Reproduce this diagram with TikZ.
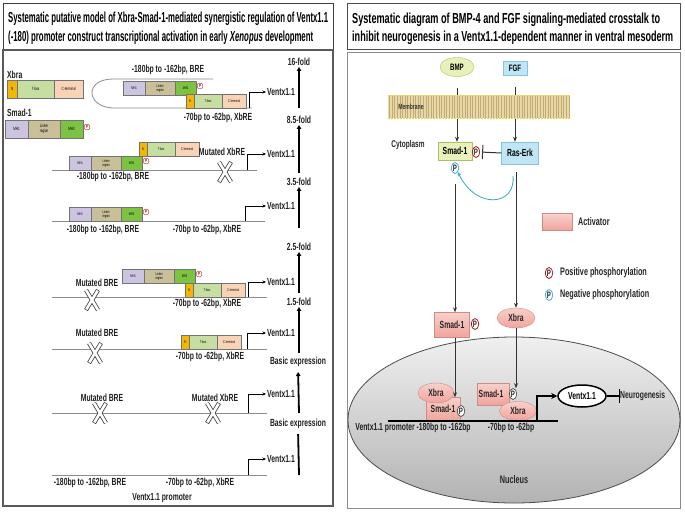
\documentclass[tikz,border=0pt]{standalone}
\usepackage{fontspec}
\setmainfont{Liberation Sans}
\newfontfamily\nar[FakeStretch=0.66]{Liberation Sans}
\usetikzlibrary{arrows.meta,shapes.geometric}
\definecolor{nc}{HTML}{F2B705}
\definecolor{tboxc}{HTML}{C6DEA2}
\definecolor{ctc}{HTML}{F9D3B6}
\definecolor{mhone}{HTML}{CCC4E0}
\definecolor{linkc}{HTML}{C9BF99}
\definecolor{mhtwo}{HTML}{7DC243}
\definecolor{bmpfill}{HTML}{E7F1B9}
\definecolor{bmpdraw}{HTML}{A8C36A}
\definecolor{bluefill}{HTML}{C0E6F5}
\definecolor{bluedraw}{HTML}{86C3DC}
\definecolor{pinktop}{HTML}{F9D0CB}
\definecolor{pinkbot}{HTML}{F0A49C}
\definecolor{pinkdraw}{HTML}{CF8C86}
\definecolor{cyanarr}{HTML}{35A8C8}
\definecolor{memfill}{HTML}{E8D8A8}
\definecolor{memline}{HTML}{C2AB72}
\definecolor{memedge}{HTML}{E6D64C}
\begin{document}
\begin{tikzpicture}[x=1pt,y=-1pt,
  lbl/.style={font=\nar\bfseries\fontsize{10.3}{11}\selectfont, inner sep=0pt, text=black!88},
  rlbl/.style={font=\nar\bfseries\fontsize{11}{12}\selectfont, inner sep=0pt, text=black!85},
  dom/.style={draw=black!55, line width=0.35pt, minimum height=14pt, inner sep=0pt, anchor=north west,
    font=\nar\fontsize{3.9}{4.1}\selectfont, align=center},
  bigdom/.style={dom, minimum height=18pt, font=\nar\fontsize{4.6}{4.8}\selectfont},
  psm/.style={circle, draw=red!75!black, fill=white, line width=0.35pt, minimum size=6pt, inner sep=0pt,
    font=\nar\bfseries\fontsize{4.4}{4.4}\selectfont, text=red!60!black},
  pbig/.style={ellipse, draw=#1, fill=white, line width=0.7pt, minimum width=7.5pt, minimum height=11pt, inner sep=0pt,
    font=\nar\bfseries\fontsize{9.3}{9.3}\selectfont, text=black!85},
  cline/.style={draw=black!45, line width=0.8pt},
  bent/.style={draw=black, line width=0.5pt, -{Stealth[length=3.5pt,width=3pt]}},
  fold/.style={draw=black, line width=1.8pt, -{Triangle[length=4pt,width=4.5pt]}},
  arr/.style={draw=black!80, line width=0.8pt, -{Stealth[length=5pt,width=4pt]}},
  pinkbox/.style={rectangle, draw=pinkdraw, top color=pinktop, bottom color=pinkbot, inner sep=0pt,
    font=\nar\bfseries\fontsize{10.3}{11}\selectfont, text=black!85},
  pinkell/.style={ellipse, draw=pinkdraw, top color=pinktop, bottom color=pinkbot, inner sep=0pt,
    font=\nar\bfseries\fontsize{10.3}{11}\selectfont, text=black!85},
  smadp/.pic={
    \node[dom, fill=mhone, minimum width=22pt] (-m1) at (0,0) {MH1};
    \node[dom, fill=linkc, minimum width=30pt] (-lk) at (22,0) {Linker\\region};
    \node[dom, fill=mhtwo, minimum width=21pt] (-m2) at (52,0) {MH2};
    \node[psm] (-p) at (77,5) {P};
  },
  smadbig/.pic={
    \node[bigdom, fill=mhone, minimum width=23pt] (-m1) at (0,0) {MH1};
    \node[bigdom, fill=linkc, minimum width=32pt] (-lk) at (23,0) {Linker\\region};
    \node[bigdom, fill=mhtwo, minimum width=23pt] (-m2) at (55,0) {MH2};
    \node[psm] (-p) at (82,7) {P};
  },
  xbrap/.pic={
    \node[dom, fill=nc, minimum width=8pt] (-n) at (0,0) {N};
    \node[dom, fill=tboxc, minimum width=28pt] (-t) at (8,0) {T-box};
    \node[dom, fill=ctc, minimum width=24pt] (-c) at (36,0) {C-terminal};
  },
  xbrabig/.pic={
    \node[bigdom, fill=nc, minimum width=10pt] (-n) at (0,0) {N};
    \node[bigdom, fill=tboxc, minimum width=37pt] (-t) at (10,0) {T-box};
    \node[bigdom, fill=ctc, minimum width=29pt] (-c) at (47,0) {C-terminal};
  },
  mutx/.pic={
    \draw[line width=4.2pt, black!75] (-6,-10) -- (6,10) (6,-10) -- (-6,10);
    \draw[line width=2.6pt, white, shorten <=0.7pt, shorten >=0.7pt] (-6,-10) -- (6,10) (6,-10) -- (-6,10);
  }
]
\useasboundingbox (0,0) rectangle (685,512);
\fill[white] (0,0) rectangle (685,512);

% ================= LEFT PANEL =================
\draw[black!75, line width=1pt] (3,3) rectangle (333,50);
\draw[black!65, line width=1.2pt] (3,50) rectangle (333,506);
\node[anchor=west, inner sep=0pt] (ltitle1) at (8,19) {\resizebox{320pt}{\height}{\fontsize{14.5}{15}\selectfont\bfseries Systematic putative model of Xbra-Smad-1-mediated synergistic regulation of Ventx1.1}};
\node[anchor=west, inner sep=0pt] (ltitle2) at (8,38) {\resizebox{305pt}{\height}{\fontsize{14.5}{15}\selectfont\bfseries (-180) promoter construct transcriptional activation in early \textit{Xenopus} development}};

% legend proteins
\node[lbl, anchor=west] (xbralbl) at (7,75) {Xbra};
\pic (xb0) at (7,80) {xbrabig};
\node[lbl, anchor=west] (smadlbl) at (7,113) {Smad-1};
\pic (sm0) at (5,120) {smadbig};

% fold labels and arrows
\node[lbl] (f16) at (299,62) {16-fold};
\node[lbl] (f85) at (299,120) {8.5-fold};
\node[lbl] (f35) at (299,182) {3.5-fold};
\node[lbl] (f25) at (299,247) {2.5-fold};
\node[lbl] (f15) at (299,302) {1.5-fold};
\node[lbl] (be1) at (298,362) {Basic expression};
\node[lbl] (be2) at (298,424) {Basic expression};
\coordinate (a1) at (299,108);
\coordinate (a2) at (299,173);
\coordinate (a3) at (299,228);
\coordinate (a4) at (299,293);
\coordinate (a5) at (299,353);
\coordinate (a6) at (299,413);
\coordinate (a7) at (299,475);
\draw[fold, shorten >=1pt] (a1) -- (f16.south);
\draw[fold, shorten >=1pt] (a2) -- (f85.south);
\draw[fold, shorten >=1pt] (a3) -- (f35.south);
\draw[fold, shorten >=1pt] (a4) -- (f25.south);
\draw[fold, shorten >=1pt] (a5) -- (f15.south);
\draw[fold, shorten >=5pt] (a6) -- (be1.south);
\draw[black, line width=1.8pt, shorten <=5pt] (be2.south) -- (a7);

% Ventx labels
\node[lbl] (v1) at (281,92) {Ventx1.1};
\node[lbl] (v2) at (281,154) {Ventx1.1};
\node[lbl] (v3) at (281,206) {Ventx1.1};
\node[lbl] (v4) at (281,282) {Ventx1.1};
\node[lbl] (v5) at (281,333) {Ventx1.1};
\node[lbl] (v6) at (281,394) {Ventx1.1};
\node[lbl] (v7) at (281,459) {Ventx1.1};

% Row 1
\node[lbl] (r1bre) at (168,70) {-180bp to -162bp, BRE};
\node[lbl] (r1xb) at (218,118) {-70bp to -62bp, XbRE};
\draw[cline] (213,79) -- (113,79) .. controls (84,79) and (86,107) .. (113,108) -- (252,108);
\coordinate (b1) at (249,108);
\draw[bent, shorten >=1pt] (b1) |- (v1.west);
\pic (s1) at (123,81) {smadp};
\pic (x1) at (186,94) {xbrap};

% Row 2
\coordinate (l2a) at (52,170); \coordinate (l2b) at (257,170);
\draw[cline] (l2a) -- (l2b);
\coordinate (b2) at (247,170);
\draw[bent, shorten >=1pt] (b2) |- (v2.west);
\pic (s2) at (69,156) {smadp};
\pic (x2) at (139,142) {xbrap};
\node[lbl] (r2bre) at (113,177) {-180bp to -162bp, BRE};
\node[lbl] (r2mx) at (222,152) {Mutated XbRE};
\pic at (225,172) {mutx};

% Row 3
\coordinate (l3a) at (52,221); \coordinate (l3b) at (265,221);
\draw[cline] (l3a) -- (l3b);
\coordinate (b3) at (245,221);
\draw[bent, shorten >=1pt] (b3) |- (v3.west);
\pic (s3) at (69,207) {smadp};
\node[lbl] (r3bre) at (103,230) {-180bp to -162bp, BRE};
\node[lbl] (r3xb) at (207,230) {-70bp to -62bp, XbRE};

% Row 4
\coordinate (l4a) at (52,297); \coordinate (l4b) at (267,297);
\draw[cline] (l4a) -- (l4b);
\coordinate (b4) at (248,297);
\draw[bent, shorten >=1pt] (b4) |- (v4.west);
\pic (s4) at (122,269) {smadp};
\pic (x4) at (185,283) {xbrap};
\node[lbl] (r4mb) at (97,283) {Mutated BRE};
\pic at (92,300) {mutx};
\node[lbl] (r4xb) at (207,304) {-70bp to -62bp, XbRE};

% Row 5
\coordinate (l5a) at (52,349); \coordinate (l5b) at (267,349);
\draw[cline] (l5a) -- (l5b);
\coordinate (b5) at (247,349);
\draw[bent, shorten >=1pt] (b5) |- (v5.west);
\pic (x5) at (181,335) {xbrap};
\node[lbl] (r5mb) at (97,333) {Mutated BRE};
\pic at (95,353) {mutx};
\node[lbl] (r5xb) at (210,357) {-70bp to -62bp, XbRE};

% Row 6
\coordinate (l6a) at (52,413); \coordinate (l6b) at (267,413);
\draw[cline] (l6a) -- (l6b);
\coordinate (b6) at (248,413);
\draw[bent, shorten >=1pt] (b6) |- (v6.west);
\node[lbl] (r6mb) at (102,398) {Mutated BRE};
\node[lbl] (r6mx) at (215,398) {Mutated XbRE};
\pic at (100,413) {mutx};
\pic at (213,413) {mutx};

% Row 7
\coordinate (l7a) at (52,475); \coordinate (l7b) at (267,475);
\draw[cline] (l7a) -- (l7b);
\coordinate (b7) at (248,475);
\draw[bent, shorten >=1pt] (b7) |- (v7.west);
\node[lbl] (r7bre) at (90,483) {-180bp to -162bp, BRE};
\node[lbl] (r7xb) at (200,483) {-70bp to -62bp, XbRE};
\node[lbl] (prom) at (162,498) {Ventx1.1 promoter};

% ================= RIGHT PANEL =================
\draw[black!70, line width=0.9pt] (347,3) rectangle (680,49);
\draw[black!45, line width=0.8pt] (347,52) rectangle (680,508);
\node[anchor=west, inner sep=0pt] (rtitle1) at (352,20) {\resizebox{308pt}{\height}{\fontsize{14.5}{15}\selectfont\bfseries Systematic diagram of BMP-4 and FGF signaling-mediated crosstalk to}};
\node[anchor=west, inner sep=0pt] (rtitle2) at (352,38) {\resizebox{321pt}{\height}{\fontsize{14.5}{15}\selectfont\bfseries inhibit neurogenesis in a Ventx1.1-dependent manner in ventral mesoderm}};

\node[ellipse, draw=bmpdraw, fill=bmpfill, minimum width=34pt, minimum height=19pt, inner sep=0pt,
  font=\nar\bfseries\fontsize{9.3}{10}\selectfont] (bmp) at (457,67) {BMP};
\node[rectangle, draw=bluedraw, fill=bluefill, minimum width=24pt, minimum height=14pt, inner sep=0pt,
  font=\nar\bfseries\fontsize{9.3}{10}\selectfont] (fgf) at (515,68) {FGF};

\node[rectangle, draw=bmpdraw, fill=bmpfill, minimum width=34pt, minimum height=18pt, inner sep=0pt,
  font=\nar\bfseries\fontsize{10.3}{11}\selectfont] (smadc) at (455,151) {Smad-1};
\node[pbig=red!70!black] (pR) at (476,152) {P};
\node[pbig=cyanarr] (pB) at (455,168) {P};
\node[rectangle, draw=bluedraw, fill=bluefill, minimum width=37pt, minimum height=22pt, inner sep=0pt,
  font=\nar\bfseries\fontsize{10.3}{11}\selectfont] (ras) at (520,153) {Ras-Erk};
\node[rlbl, font=\nar\bfseries\fontsize{9.8}{10}\selectfont] (cyto) at (408,145) {Cytoplasm};

\draw[arr, shorten <=11pt] (bmp.south) -- (bmp.south |- smadc.north);
\draw[arr, shorten <=12pt] (fgf.south) -- (fgf.south |- ras.north);

% membrane
\fill[memfill] (388,95) rectangle (570,118);
\foreach \i in {0,...,69} \draw[memline, line width=0.6pt] ({389.5+2.6*\i},95.5) -- ++(0,22);
\draw[memedge, line width=0.8pt, dash pattern=on 2pt off 1pt] (388,95) -- (570,95) (388,118) -- (570,118);
\node[font=\nar\bfseries\fontsize{7.6}{8}\selectfont, inner sep=0pt, text=black!80] (memlbl) at (411,107) {Membrane};

% inhibition Ras-Erk -| Smad
\draw[black!80, line width=1pt, -{Bar[width=14pt]}, shorten >=2pt] (ras.west) -- (pR.east);
% blue curve
\coordinate (bs) at (513,176);
\draw[cyanarr, line width=0.8pt, -{Stealth[length=4pt,width=3.5pt]}] (bs) .. controls (516,206) and (476,210) .. (pB.south east);

% legend
\node[pinkbox, minimum width=30pt, minimum height=17pt] (actbox) at (557,222) {};
\node[rlbl, anchor=west] (actlbl) at (578,222) {Activator};
\node[pbig=red!70!black] (lgP1) at (549,273) {P};
\node[rlbl, anchor=west] (lgt1) at (560,273) {Positive phosphorylation};
\node[pbig=cyanarr] (lgP2) at (549,295) {P};
\node[rlbl, anchor=west] (lgt2) at (560,295) {Negative phosphorylation};

% nucleus
\node[ellipse, draw=black!70, line width=0.8pt, top color=black!6, bottom color=black!30,
  minimum width=332pt, minimum height=166pt, inner sep=0pt] (nuc) at (514,420) {};
\node[rlbl] (nuclbl) at (514,480) {Nucleus};

% cytoplasm to nucleus shuttle
\node[pinkbox, minimum width=35pt, minimum height=25pt] (smadn) at (452,325) {Smad-1\hspace{6pt}};
\node[pbig=red!70!black] (pN) at (475,324) {P};
\node[pinkell, minimum width=38pt, minimum height=20pt] (xbn) at (516,318) {Xbra};
\draw[arr, shorten <=10pt] (pB.south) -- (pB.south |- smadn.north);
\draw[arr, shorten <=8pt] (ras.south -| xbn.north) -- (xbn.north);

% nuclear complexes
\node[pinkbox, minimum width=34pt, minimum height=23pt] (sm2) at (443,409) {\raisebox{-3pt}{Smad-1}};
\node[pbig=black!70] (pN2) at (461,411) {P};
\node[pinkell, minimum width=36pt, minimum height=20pt] (xb2) at (436,393) {Xbra};
\node[pinkbox, minimum width=32pt, minimum height=22pt] (sm3) at (493,394) {\hspace{-4pt}Smad-1};
\node[pbig=black!70] (pN3) at (513,394) {P};
\node[pinkell, minimum width=37pt, minimum height=19pt] (xb3) at (518,411) {Xbra};

\draw[arr] (smadn.south -| pB.south) -- (pB.south |- sm2.north);
\draw[arr] (xbn.south) -- (xbn.south |- pN3.north);

% promoter
\coordinate (pl1) at (388,421); \coordinate (pl2) at (558,421);
\draw[black, line width=1.3pt] (pl1) -- (pl2);
\node[ellipse, draw=black, line width=1.5pt, fill=white, minimum width=48pt, minimum height=22pt, inner sep=0pt,
  font=\nar\bfseries\fontsize{10.3}{11}\selectfont] (vx) at (582,396) {Ventx1.1};
\coordinate (pb) at (537,421);
\draw[black, line width=1.2pt, -{Stealth[length=6pt,width=6pt]}] (pb) |- (vx.west);
\node[rlbl, anchor=west, font=\nar\bfseries\fontsize{10.3}{11}\selectfont] (neu) at (620,396) {Neurogenesis};
\draw[black, line width=1.2pt, -{Bar[width=14pt]}] (vx.east) -- (neu.west);
\node[lbl] (pl1lbl) at (413,428) {Ventx1.1 promoter -180bp to -162bp};
\node[lbl] (pl2lbl) at (511,428) {-70bp to -62bp};
\end{tikzpicture}
\end{document}
